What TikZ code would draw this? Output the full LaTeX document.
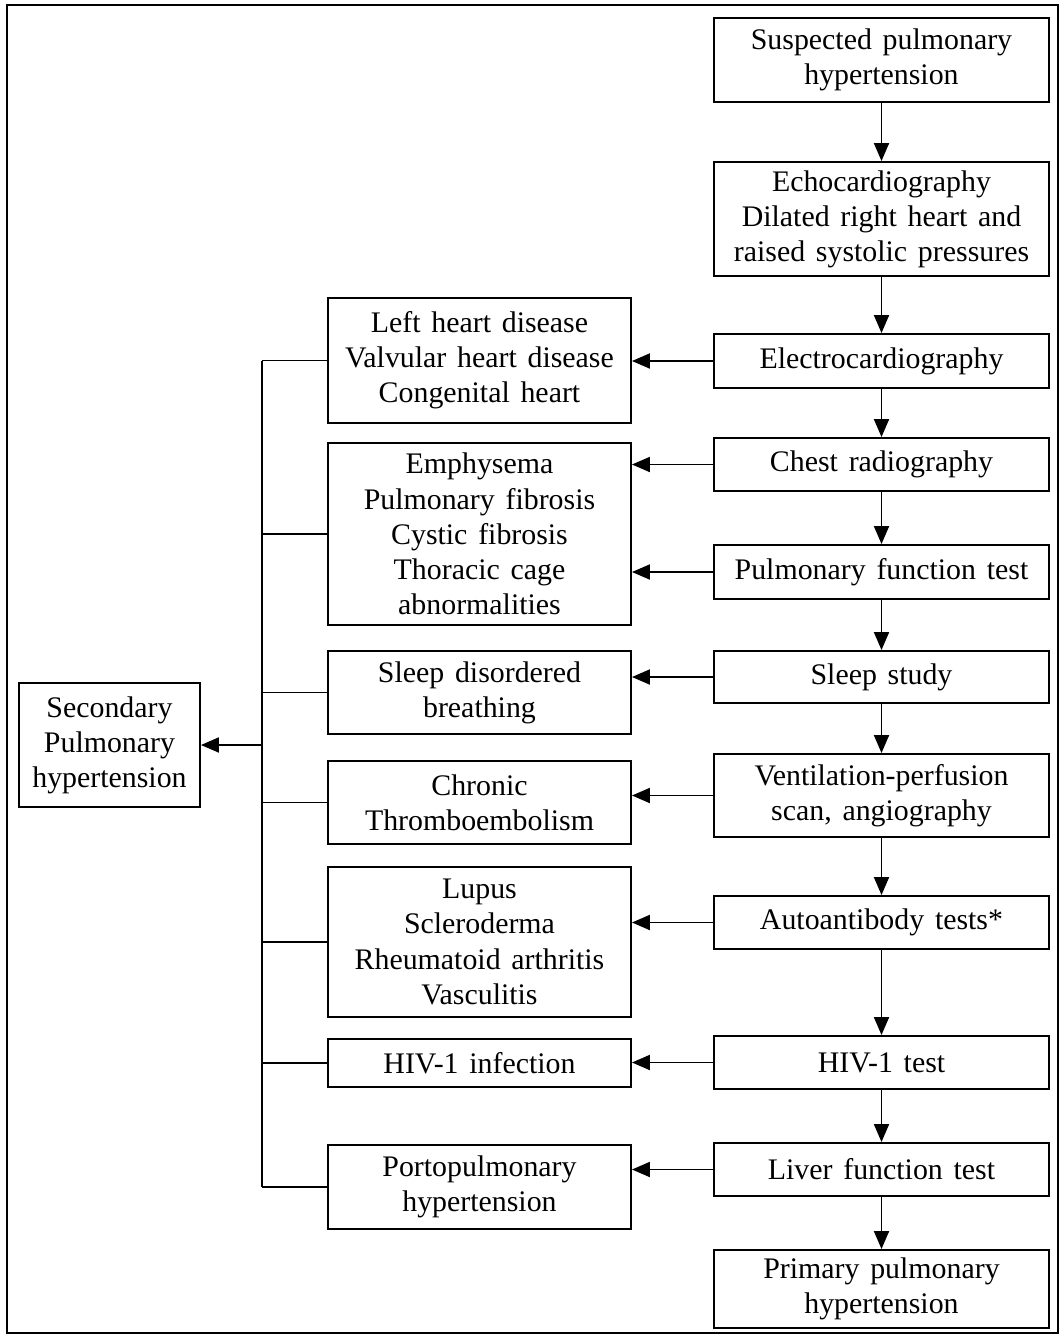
\documentclass[tikz,border=0pt]{standalone}
\usepackage{fontspec}
\setmainfont{Liberation Serif}
\usetikzlibrary{arrows.meta}
\newcommand{\boxfont}{\fontsize{17}{20}\selectfont\spaceskip=0.36em plus 0.1em\relax}

\begin{document}
\begin{tikzpicture}[x=0.02cm,y=-0.02cm,
    box/.style={draw, line width=1.1pt, align=center, font=\boxfont, inner sep=2pt},
    rbox/.style={box, minimum width=6.7cm, minimum height=1.06cm},
    mbox/.style={box, minimum width=6.06cm},
    arr/.style={line width=1.1pt, -{Triangle[length=0.36cm,width=0.3cm]}},
    link/.style={line width=1.1pt}]
    \useasboundingbox (0,0) rectangle (1059,1336);
    \draw[line width=0.6pt] (7,5) rectangle (1058,1333);

    \coordinate (bus) at (262,745);

    \node[rbox, minimum height=1.68cm] (susp) at (881.5,60) {Suspected pulmonary\\hypertension};
    \node[rbox, minimum height=2.28cm] (echo) at (881.5,219) {Echocardiography\\Dilated right heart and\\raised systolic pressures};
    \node[rbox, minimum height=1.08cm] (elec) at (881.5,361) {Electrocardiography};
    \node[rbox] (chest) at (881.5,464.5) {Chest radiography};
    \node[rbox, minimum height=1.08cm] (pft) at (881.5,572) {Pulmonary function test};
    \node[rbox, minimum height=1.04cm] (sleep) at (881.5,677) {Sleep study};
    \node[rbox, minimum height=1.66cm] (vq) at (881.5,795.5) {Ventilation-perfusion\\scan, angiography};
    \node[rbox] (auto) at (881.5,922.5) {Autoantibody tests*};
    \node[rbox] (hivt) at (881.5,1062.5) {HIV-1 test};
    \node[rbox] (liver) at (881.5,1169.5) {Liver function test};
    \node[rbox, minimum height=1.56cm] (prim) at (881.5,1289) {Primary pulmonary\\hypertension};

    \node[mbox, minimum height=2.5cm] (lhd) at (479.5,360.5) {Left heart disease\\Valvular heart disease\\Congenital heart};
    \node[mbox, minimum height=3.64cm] (lung) at (479.5,534) {Emphysema\\Pulmonary fibrosis\\Cystic fibrosis\\Thoracic cage\\abnormalities};
    \node[mbox, minimum height=1.66cm] (sdb) at (479.5,692.5) {Sleep disordered\\breathing};
    \node[mbox, minimum height=1.66cm] (cteph) at (479.5,802.5) {Chronic\\Thromboembolism};
    \node[mbox, minimum height=3cm] (ctd) at (479.5,942) {Lupus\\Scleroderma\\Rheumatoid arthritis\\Vasculitis};
    \node[mbox, minimum height=0.96cm] (hivi) at (479.5,1063) {HIV-1 infection};
    \node[mbox, minimum height=1.68cm] (porto) at (479.5,1187) {Portopulmonary\\hypertension};

    \node[box, minimum width=3.62cm, minimum height=2.48cm] (sec) at (109.5,745) {Secondary\\Pulmonary\\hypertension};

    \foreach \a/\b in {susp/echo,echo/elec,elec/chest,chest/pft,pft/sleep,sleep/vq,vq/auto,auto/hivt,hivt/liver,liver/prim}
        \draw[arr] (\a) -- (\b);
    \foreach \a/\b in {elec/lhd,chest/lung,pft/lung,sleep/sdb,vq/cteph,auto/ctd,hivt/hivi,liver/porto}
        \draw[arr] (\a.west) -- (\a.west -| \b.east);

    \foreach \n in {lhd,lung,sdb,cteph,ctd,hivi,porto} \draw[link] (\n.west) -- (\n.west -| bus);
    \draw[link] (lhd.west -| bus) -- (porto.west -| bus);
    \draw[arr] (bus) -- (sec.east);
\end{tikzpicture}
\end{document}
